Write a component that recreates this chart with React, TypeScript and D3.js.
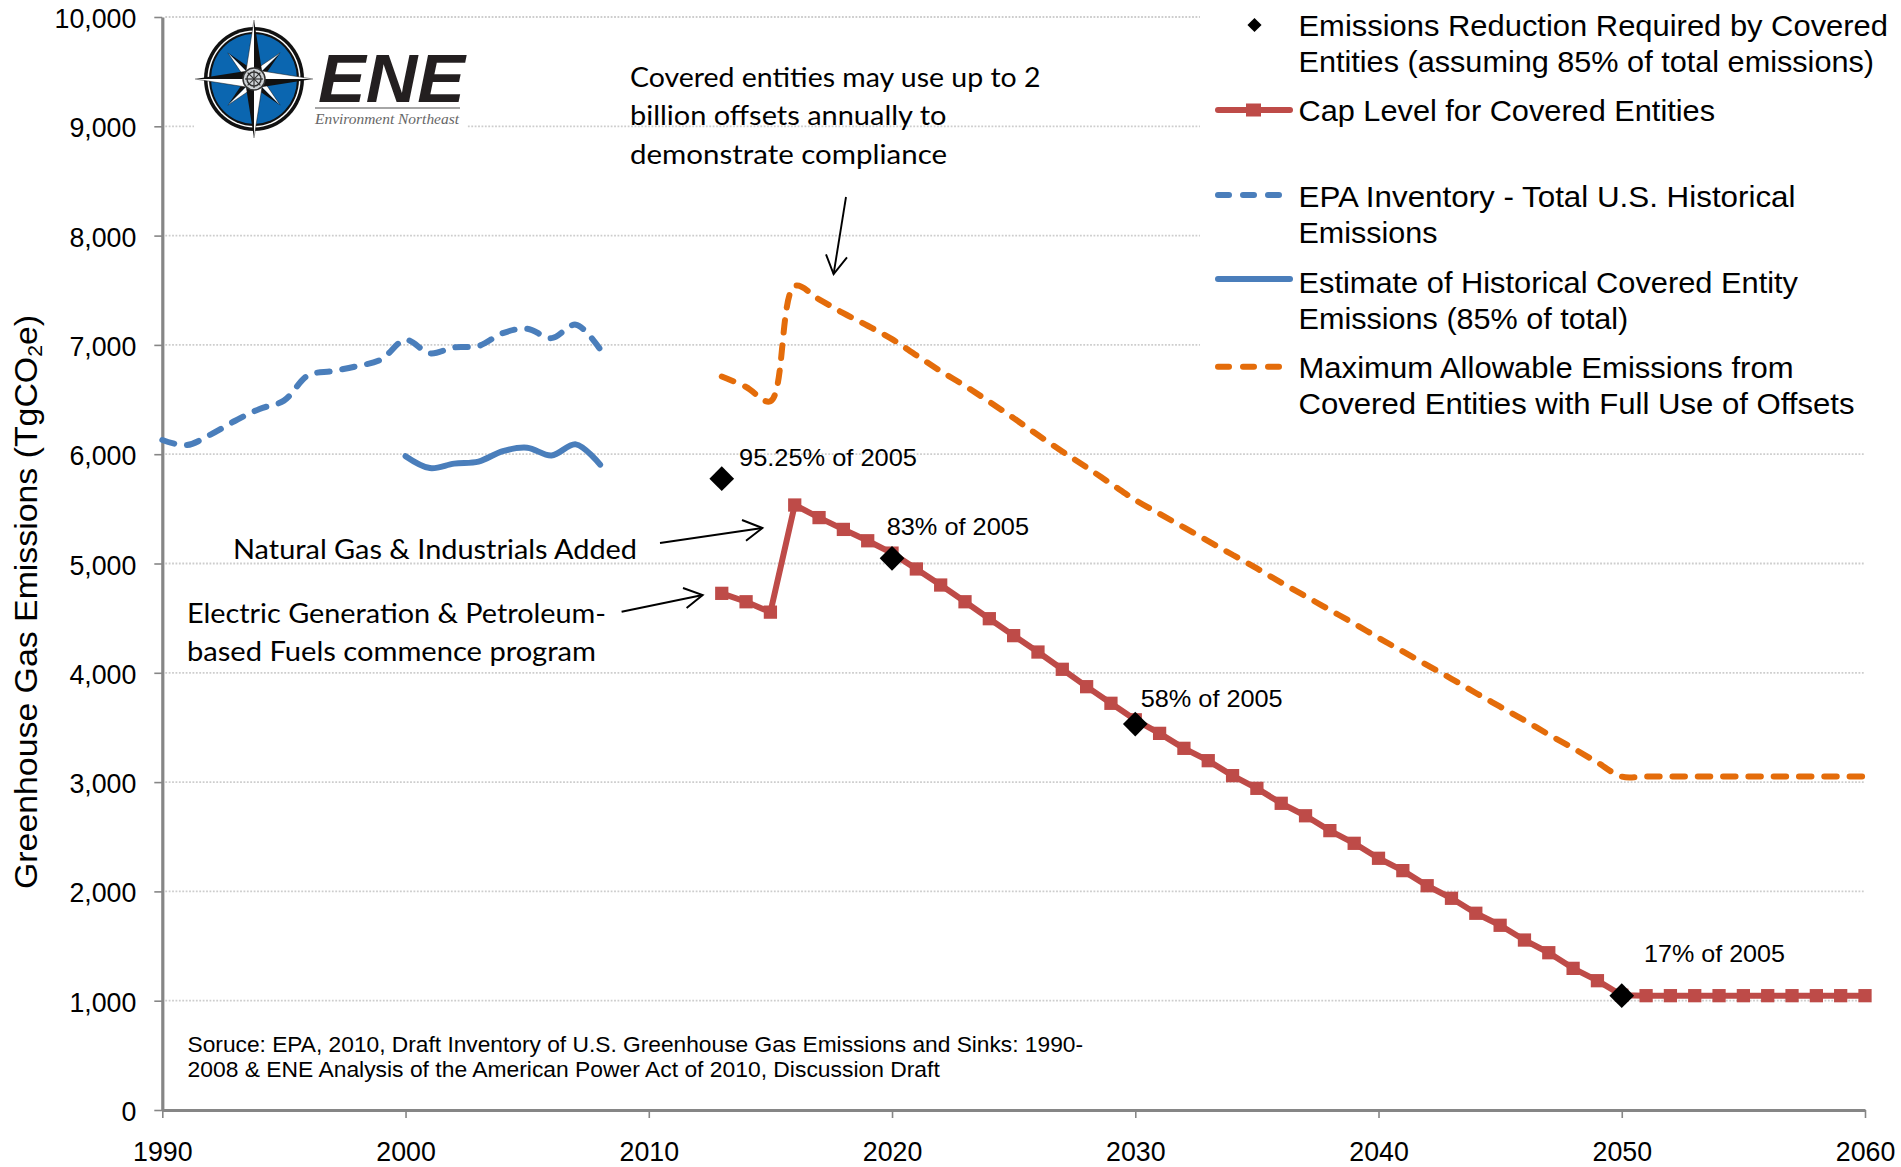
import { useEffect, useRef } from "react";
import * as d3 from "d3";

// values (TgCO2e)
const historyYears = [1990, 1991, 1992, 1993, 1994, 1995, 1996, 1997, 1998, 1999, 2000, 2001, 2002, 2003, 2004, 2005, 2006, 2007, 2008];
const epaTotal = [6130, 6083, 6182, 6306, 6414, 6490, 6722, 6760, 6805, 6867, 7046, 6923, 6978, 6990, 7108, 7148, 7062, 7185, 6960];
const coveredYears = [2000, 2001, 2002, 2003, 2004, 2005, 2006, 2007, 2008];
const coveredHistory = [5982, 5873, 5914, 5932, 6028, 6059, 5988, 6090, 5904];

const capYears = [2013, 2014, 2015, 2016, 2017, 2018, 2019, 2020, 2021, 2022, 2023, 2024, 2025, 2026, 2027, 2028, 2029, 2030, 2031, 2032, 2033, 2034, 2035, 2036, 2037, 2038, 2039, 2040, 2041, 2042, 2043, 2044, 2045, 2046, 2047, 2048, 2049, 2050, 2051, 2052, 2053, 2054, 2055, 2056, 2057, 2058, 2059, 2060];
const capLevel = [4727, 4650, 4555, 5535, 5420, 5312, 5208, 5095, 4950, 4803, 4650, 4495, 4340, 4190, 4032, 3873, 3721, 3570, 3446, 3309, 3196, 3059, 2943, 2806, 2692, 2556, 2440, 2303, 2190, 2052, 1937, 1800, 1690, 1555, 1439, 1296, 1183, 1050, 1046, 1046, 1046, 1046, 1046, 1046, 1046, 1046, 1046, 1046];
const maxAllowable = [6711, 6615, 6484, 7538, 7417, 7290, 7175, 7053, 6905, 6760, 6625, 6480, 6330, 6175, 6025, 5880, 5730, 5581, 5455, 5330, 5205, 5080, 4955, 4825, 4700, 4575, 4450, 4320, 4195, 4070, 3945, 3815, 3690, 3565, 3435, 3310, 3180, 3050, 3052, 3052, 3052, 3052, 3052, 3052, 3052, 3052, 3052, 3052];

const reductionYears = [2013, 2020, 2030, 2050];
const reductionValues = [5776, 5047, 3531, 1046];

const xTicks = [1990, 2000, 2010, 2020, 2030, 2040, 2050, 2060];
const yTicks = [0, 1000, 2000, 3000, 4000, 5000, 6000, 7000, 8000, 9000, 10000];

const RED = "#BE4B48";
const BLUE = "#4A7EBB";
const ORANGE = "#E46C0A";
const GREY = "#868686";
const ARIAL = "'Liberation Sans', Arial, sans-serif";
const CALIBRI = "Lato, 'Noto Sans', sans-serif";

export default function App() {
  const svgRef = useRef<SVGSVGElement>(null);

  useEffect(() => {
    if (!svgRef.current) return;
    const svg = d3.select(svgRef.current);
    svg.selectAll("*").remove();

    const x = d3.scaleLinear().domain([1990, 2060]).range([162.3, 1865]);
    const y = d3.scaleLinear().domain([0, 10000]).range([1110, 17]);

    // text squeezed to the width it has in the reference
    const fit = (str: string, left: number, right: number, base: number, size: number, family: string) =>
      svg
        .append("text")
        .attr("x", left)
        .attr("y", base)
        .attr("font-family", family)
        .attr("font-size", size)
        .attr("fill", "#000")
        .attr("textLength", right - left)
        .attr("lengthAdjust", "spacingAndGlyphs")
        .text(str);

    // gridlines
    svg
      .append("g")
      .selectAll("line")
      .data(yTicks.slice(1))
      .join("line")
      .attr("x1", x(1990) + 3)
      .attr("x2", x(2060))
      .attr("y1", (d) => y(d))
      .attr("y2", (d) => y(d))
      .attr("stroke", "#cdcdcd")
      .attr("stroke-width", 1.8)
      .attr("stroke-dasharray", "1.8 1.6");

    // white boxes the logo and the legend sit on
    svg.append("rect").attr("x", 194).attr("y", 100).attr("width", 273).attr("height", 42).attr("fill", "#fff");
    svg.append("rect").attr("x", 1200).attr("y", 0).attr("width", 701).attr("height", 440).attr("fill", "#fff");

    // axes
    const yAxis = svg
      .append("g")
      .attr("transform", `translate(${x(1990)},0)`)
      .call(d3.axisLeft(y).tickValues(yTicks).tickFormat(d3.format(",")).tickSize(8).tickSizeOuter(0).tickPadding(18));
    const xAxis = svg
      .append("g")
      .attr("transform", `translate(0,${y(0)})`)
      .call(d3.axisBottom(x).tickValues(xTicks).tickFormat(d3.format("d")).tickSize(8).tickSizeOuter(0));
    [yAxis, xAxis].forEach((a) => {
      a.select(".domain").attr("stroke", GREY).attr("stroke-width", 3.2);
      a.selectAll(".tick line").attr("stroke", GREY).attr("stroke-width", 1.6);
      a.selectAll<SVGTextElement, unknown>("text")
        .attr("font-family", ARIAL)
        .attr("font-size", 28)
        .attr("fill", "#000")
        .attr("lengthAdjust", "spacingAndGlyphs")
        .attr("textLength", function () {
          return this.getComputedTextLength() * 0.955;
        });
    });
    yAxis.selectAll("text").attr("dy", 10.5);
    xAxis.selectAll("text").attr("y", 51.4).attr("dy", 0);

    // y axis title
    const title = svg
      .append("text")
      .attr("transform", "translate(37,889) rotate(-90)")
      .attr("font-family", ARIAL)
      .attr("font-size", 32)
      .attr("fill", "#000")
      .attr("textLength", 574)
      .attr("lengthAdjust", "spacingAndGlyphs");
    title.append("tspan").text("Greenhouse Gas Emissions (TgCO");
    title.append("tspan").attr("font-size", 20).attr("dy", 5).text("2");
    title.append("tspan").attr("dy", -5).text("e)");

    // series
    const smooth = d3
      .line<[number, number]>()
      .x((d) => x(d[0]))
      .y((d) => y(d[1]))
      .curve(d3.curveCatmullRom.alpha(0.5));
    const straight = d3
      .line<[number, number]>()
      .x((d) => x(d[0]))
      .y((d) => y(d[1]));
    const zip = (xs: number[], ys: number[]) => xs.map((v, i) => [v, ys[i]] as [number, number]);

    const path = (d: string | null, color: string, dash?: string) =>
      svg
        .append("path")
        .attr("d", d)
        .attr("fill", "none")
        .attr("stroke", color)
        .attr("stroke-width", 6)
        .attr("stroke-linecap", "round")
        .attr("stroke-linejoin", "round")
        .attr("stroke-dasharray", dash ?? null);

    path(smooth(zip(historyYears, epaTotal)), BLUE, "12.5 12.8");
    path(smooth(zip(coveredYears, coveredHistory)), BLUE);
    path(smooth(zip(capYears, maxAllowable)), ORANGE, "12.5 12.8");
    path(straight(zip(capYears, capLevel)), RED);

    const square = d3.symbol().type(d3.symbolSquare).size(176)();
    svg
      .append("g")
      .selectAll("path")
      .data(zip(capYears, capLevel))
      .join("path")
      .attr("d", square)
      .attr("fill", RED)
      .attr("transform", (d) => `translate(${x(d[0])},${y(d[1])})`);

    const diamond = d3.symbol().type(d3.symbolSquare).size(305)();
    svg
      .append("g")
      .selectAll("path")
      .data(zip(reductionYears, reductionValues))
      .join("path")
      .attr("d", diamond)
      .attr("fill", "#000")
      .attr("transform", (d) => `translate(${x(d[0])},${y(d[1])}) rotate(45)`);

    // point labels
    fit("95.25% of 2005", 739, 917, 466, 24.5, ARIAL);
    fit("83% of 2005", 886.7, 1029, 535, 24.5, ARIAL);
    fit("58% of 2005", 1140.7, 1282.7, 706.7, 24.5, ARIAL);
    fit("17% of 2005", 1644, 1785, 962, 24.5, ARIAL);

    // annotations
    fit("Covered entities may use up to 2", 630, 1040.5, 86.7, 27, CALIBRI);
    fit("billion offsets annually to", 630, 946.4, 125, 27, CALIBRI);
    fit("demonstrate compliance", 630, 947, 164, 27, CALIBRI);
    fit("Natural Gas &  Industrials Added", 233, 637, 559, 27, CALIBRI);
    fit("Electric Generation & Petroleum-", 187, 606, 623, 27, CALIBRI);
    fit("based Fuels commence program", 187, 596, 661, 27, CALIBRI);

    const arrow = (pts: number[][][]) =>
      pts.forEach((p) =>
        svg
          .append("path")
          .attr("d", d3.line()(p as [number, number][]))
          .attr("fill", "none")
          .attr("stroke", "#000")
          .attr("stroke-width", 1.9)
      );
    arrow([
      [[846, 197], [833.6, 274]],
      [[826, 254.3], [833.6, 274], [847, 257.3]],
    ]);
    arrow([
      [[660, 543], [762.4, 528]],
      [[742, 520], [762.4, 528], [746, 540.7]],
    ]);
    arrow([
      [[621.6, 611.7], [702.7, 595]],
      [[683, 588], [702.7, 595], [686.6, 608]],
    ]);

    // source note
    fit("Soruce: EPA, 2010, Draft Inventory of U.S. Greenhouse Gas Emissions and Sinks: 1990-", 187.5, 1083, 1051.7, 22.5, ARIAL);
    fit("2008 & ENE Analysis of the American Power Act of 2010, Discussion Draft", 187.5, 939.8, 1076.7, 22.5, ARIAL);

    // legend
    const legendLeft = 1298.5;
    fit("Emissions Reduction Required by Covered", legendLeft, 1888, 36, 30, ARIAL);
    fit("Entities (assuming 85% of total emissions)", legendLeft, 1874, 72, 30, ARIAL);
    fit("Cap Level for Covered Entities", legendLeft, 1715, 121, 30, ARIAL);
    fit("EPA Inventory - Total U.S. Historical", legendLeft, 1795.5, 207, 30, ARIAL);
    fit("Emissions", legendLeft, 1437.5, 243, 30, ARIAL);
    fit("Estimate of Historical Covered Entity", legendLeft, 1798, 293, 30, ARIAL);
    fit("Emissions (85% of total)", legendLeft, 1628.3, 329, 30, ARIAL);
    fit("Maximum Allowable Emissions from", legendLeft, 1793.5, 378, 30, ARIAL);
    fit("Covered Entities with Full Use of Offsets", legendLeft, 1854.5, 414, 30, ARIAL);

    svg
      .append("path")
      .attr("d", d3.symbol().type(d3.symbolSquare).size(100)())
      .attr("transform", "translate(1254.5,25) rotate(45)")
      .attr("fill", "#000");
    path(d3.line()([[1218, 110], [1290, 110]]), RED);
    svg.append("rect").attr("x", 1246).attr("y", 103.5).attr("width", 15).attr("height", 13).attr("fill", RED);
    path(d3.line()([[1218, 195], [1282, 195]]), BLUE, "11 14");
    path(d3.line()([[1218, 279], [1290, 279]]), BLUE);
    path(d3.line()([[1218, 366.7], [1282, 366.7]]), ORANGE, "11 14");

    // ENE logo
    const logo = svg.append("g");
    const cx = 254;
    const cy = 79;
    logo.append("ellipse").attr("cx", cx).attr("cy", cy).attr("rx", 50).attr("ry", 52).attr("fill", "#111");
    logo.append("ellipse").attr("cx", cx).attr("cy", cy).attr("rx", 46.5).attr("ry", 48.5).attr("fill", "#fff");
    logo.append("ellipse").attr("cx", cx).attr("cy", cy).attr("rx", 45).attr("ry", 47).attr("fill", "#111");
    logo.append("ellipse").attr("cx", cx).attr("cy", cy).attr("rx", 43).attr("ry", 45).attr("fill", "#0B66B0");
    const star = (len: number, base: number, skip: number) => {
      d3.range(skip, 360 + skip, 90).forEach((deg) => {
        const g = logo.append("g").attr("transform", `translate(${cx},${cy}) rotate(${deg})`);
        g.append("path").attr("d", d3.line()([[0, -len], [base, -base], [0, 0]])).attr("fill", "#111");
        g.append("path").attr("d", d3.line()([[0, -len], [-base, -base], [0, 0]])).attr("fill", "#fff").attr("stroke", "#111").attr("stroke-width", 0.5);
      });
    };
    star(37, 6, 45);
    star(59, 8, 0);
    logo.append("circle").attr("cx", cx).attr("cy", cy).attr("r", 11).attr("fill", "#cfd3d6").attr("stroke", "#333").attr("stroke-width", 1.5);
    logo.append("circle").attr("cx", cx).attr("cy", cy).attr("r", 7).attr("fill", "none").attr("stroke", "#333").attr("stroke-width", 1.5);
    d3.range(0, 180, 45).forEach((deg) => {
      logo
        .append("line")
        .attr("x1", cx)
        .attr("x2", cx)
        .attr("y1", cy - 9)
        .attr("y2", cy + 9)
        .attr("stroke", "#333")
        .attr("stroke-width", 1.2)
        .attr("transform", `rotate(${deg} ${cx} ${cy})`);
    });
    const ene = fit("ENE", 318, 465, 102, 69, ARIAL);
    ene.attr("font-weight", 700).attr("font-style", "italic").attr("fill", "#231f20");
    logo.append("line").attr("x1", 315).attr("x2", 460).attr("y1", 108).attr("y2", 108).attr("stroke", "#888").attr("stroke-width", 1.5);
    const sub = fit("Environment Northeast", 315, 459, 124, 15.5, "'Liberation Serif', serif");
    sub.attr("font-style", "italic").attr("fill", "#666");
  }, []);

  return <svg ref={svgRef} width={1901} height={1167} style={{ position: "absolute", left: 0, top: 0, display: "block" }} />;
}
